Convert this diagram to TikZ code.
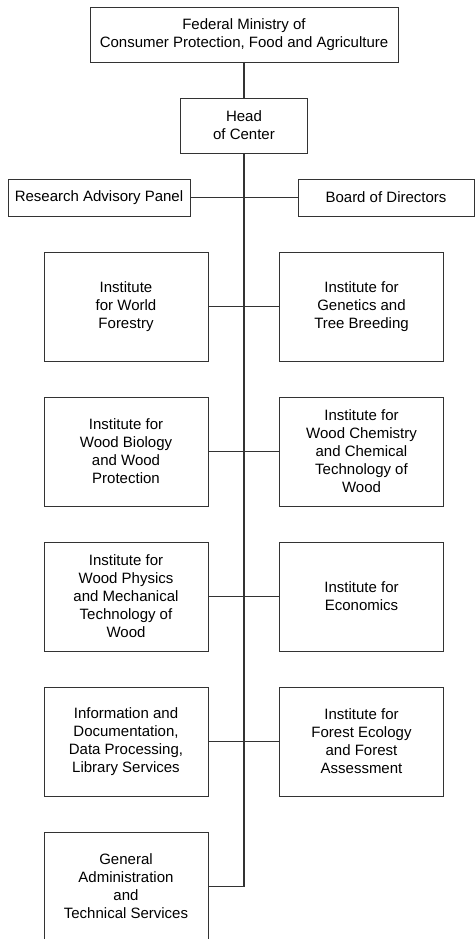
\documentclass[tikz,border=0pt]{standalone}
\usepackage{fontspec}
\setmainfont{Liberation Sans}
\definecolor{linegray}{RGB}{51,51,51}

\begin{document}
\begin{tikzpicture}[x=1pt,y=-1pt,line width=0.9pt,
            unit/.style={draw=linegray,rectangle,align=center,inner sep=0pt,outer sep=0pt,font=\fontsize{15}{18}\selectfont},
            inst/.style={unit,minimum width=164pt,minimum height=109pt}]
            \useasboundingbox (0,0) rectangle (475,939);
            \node[unit,minimum width=308pt,minimum height=55pt] (ministry) at (244,34.5){Federal Ministry of\\ Consumer Protection, Food and Agriculture};
            \node[unit,minimum width=127pt,minimum height=55pt] (head) at (244,125.5){Head\\of Center};
            \node[unit,minimum width=182pt,minimum height=37pt] (panel) at (99,197.5){Research Advisory Panel};
            \node[unit,minimum width=176pt,minimum height=37pt] (board) at (386,197.5){Board of Directors};
            \node[inst] (forestry) at (126,306.5){Institute\\for World\\Forestry};
            \node[inst] (genetics) at (361.5,306.5){Institute for\\Genetics and\\Tree Breeding};
            \node[inst] (biology) at (126,451.5){Institute for\\Wood Biology\\and Wood\\Protection};
            \node[inst] (chemistry) at (361.5,451.5){Institute for\\Wood Chemistry\\and Chemical\\Technology of\\Wood};
            \node[inst] (physics) at (126,596.5){Institute for\\Wood Physics\\and Mechanical\\Technology of\\Wood};
            \node[inst] (economics) at (361.5,596.5){Institute for\\Economics};
            \node[inst] (library) at (126,741.5){Information and\\Documentation,\\Data Processing,\\Library Services};
            \node[inst] (ecology) at (361.5,741.5){Institute for\\Forest Ecology\\and Forest\\Assessment};
            \node[inst] (admin) at (126,886.5){General\\Administration\\and\\Technical Services};
            \draw[linegray,line width=1.2pt] (ministry.south) -- (head.north);
            \draw[linegray,line width=1.2pt] (head.south) -- (head.south |- admin.east) -- (admin.east);
            \draw[linegray] (panel.east) -- (board.west);
            \draw[linegray] (forestry.east) -- (genetics.west);
            \draw[linegray] (biology.east) -- (chemistry.west);
            \draw[linegray] (physics.east) -- (economics.west);
            \draw[linegray] (library.east) -- (ecology.west);
        \end{tikzpicture}
\end{document}
